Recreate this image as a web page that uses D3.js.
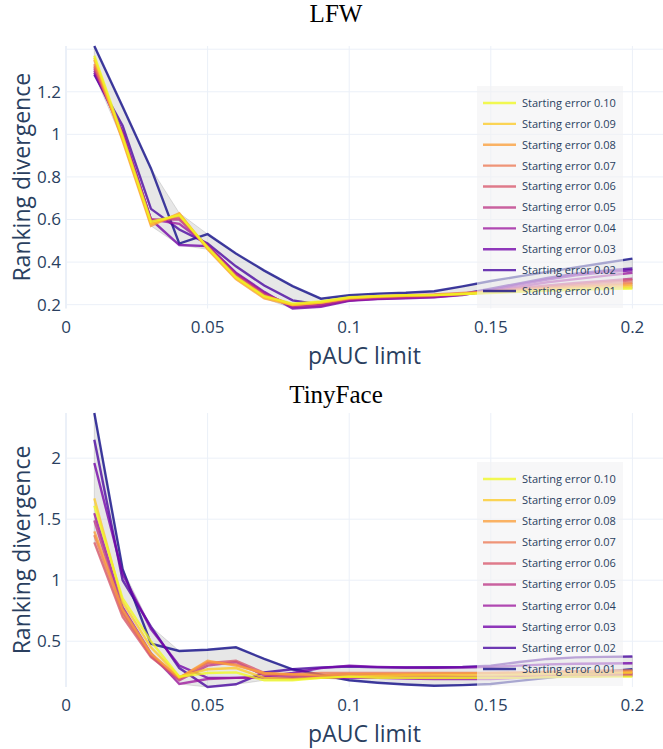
<!DOCTYPE html>
<html>
<head>
<meta charset="utf-8">
<script src="https://cdn.jsdelivr.net/npm/d3@7/dist/d3.min.js"></script>
<style>
  html, body { margin: 0; padding: 0; background: #fff; }
  svg { display: block; }
</style>
</head>
<body>
<svg id="chart" width="663" height="749"></svg>
<script>
// pAUC limits (x values shared by every series)
const pauc = [0.01, 0.02, 0.03, 0.04, 0.05, 0.06, 0.07, 0.08, 0.09, 0.10,
              0.11, 0.12, 0.13, 0.14, 0.15, 0.16, 0.17, 0.18, 0.19, 0.20];

// Series names, listed in legend order
const startingErrors = ["0.10", "0.09", "0.08", "0.07", "0.06", "0.05", "0.04", "0.03", "0.02", "0.01"];

// LFW ranking divergence, one array per starting error
const lfw010 = [1.37, 0.99, 0.59, 0.62, 0.47, 0.33, 0.24, 0.205, 0.215, 0.235, 0.24, 0.245, 0.245, 0.25, 0.255, 0.26, 0.265, 0.27, 0.273, 0.276];
const lfw009 = [1.36, 0.98, 0.58, 0.625, 0.465, 0.325, 0.235, 0.20, 0.21, 0.232, 0.238, 0.243, 0.245, 0.25, 0.257, 0.263, 0.27, 0.275, 0.28, 0.285];
const lfw008 = [1.35, 0.97, 0.57, 0.63, 0.46, 0.32, 0.23, 0.198, 0.21, 0.23, 0.238, 0.242, 0.246, 0.252, 0.26, 0.267, 0.275, 0.282, 0.288, 0.295];
const lfw007 = [1.33, 0.98, 0.58, 0.62, 0.465, 0.33, 0.24, 0.20, 0.212, 0.232, 0.24, 0.244, 0.248, 0.255, 0.263, 0.272, 0.28, 0.288, 0.295, 0.303];
const lfw006 = [1.32, 0.99, 0.59, 0.61, 0.47, 0.335, 0.245, 0.20, 0.208, 0.228, 0.236, 0.24, 0.245, 0.252, 0.262, 0.275, 0.285, 0.295, 0.305, 0.315];
const lfw005 = [1.31, 1.00, 0.60, 0.60, 0.475, 0.34, 0.25, 0.195, 0.20, 0.225, 0.232, 0.235, 0.24, 0.25, 0.262, 0.278, 0.29, 0.302, 0.312, 0.322];
const lfw004 = [1.30, 1.01, 0.60, 0.58, 0.48, 0.345, 0.255, 0.19, 0.195, 0.22, 0.228, 0.232, 0.236, 0.248, 0.265, 0.285, 0.305, 0.32, 0.335, 0.35];
const lfw003 = [1.29, 1.01, 0.60, 0.48, 0.475, 0.35, 0.26, 0.182, 0.19, 0.218, 0.226, 0.23, 0.235, 0.245, 0.268, 0.295, 0.318, 0.338, 0.352, 0.362];
const lfw002 = [1.28, 1.04, 0.65, 0.553, 0.487, 0.38, 0.29, 0.22, 0.20, 0.22, 0.23, 0.235, 0.24, 0.25, 0.275, 0.30, 0.325, 0.345, 0.36, 0.37];
const lfw001 = [1.415, 1.13, 0.84, 0.487, 0.531, 0.44, 0.36, 0.287, 0.228, 0.244, 0.252, 0.256, 0.263, 0.286, 0.311, 0.333, 0.354, 0.375, 0.396, 0.416];

// TinyFace ranking divergence, one array per starting error
const tf010 = [1.61, 0.85, 0.50, 0.21, 0.24, 0.245, 0.18, 0.18, 0.20, 0.21, 0.20, 0.20, 0.20, 0.20, 0.20, 0.20, 0.205, 0.21, 0.21, 0.21];
const tf009 = [1.67, 0.82, 0.45, 0.21, 0.27, 0.28, 0.20, 0.19, 0.20, 0.21, 0.215, 0.22, 0.22, 0.22, 0.22, 0.225, 0.23, 0.23, 0.235, 0.24];
const tf008 = [1.40, 0.76, 0.40, 0.20, 0.34, 0.30, 0.24, 0.23, 0.22, 0.23, 0.23, 0.23, 0.235, 0.235, 0.24, 0.24, 0.245, 0.25, 0.25, 0.25];
const tf007 = [1.37, 0.73, 0.39, 0.20, 0.33, 0.31, 0.23, 0.23, 0.24, 0.24, 0.24, 0.24, 0.24, 0.24, 0.24, 0.245, 0.25, 0.255, 0.26, 0.26];
const tf006 = [1.31, 0.70, 0.37, 0.19, 0.32, 0.34, 0.24, 0.22, 0.21, 0.21, 0.21, 0.205, 0.20, 0.20, 0.20, 0.205, 0.21, 0.21, 0.215, 0.22];
const tf005 = [1.49, 0.74, 0.38, 0.18, 0.30, 0.33, 0.22, 0.21, 0.22, 0.23, 0.23, 0.22, 0.215, 0.21, 0.21, 0.215, 0.22, 0.225, 0.23, 0.24];
const tf004 = [1.55, 0.78, 0.40, 0.15, 0.19, 0.20, 0.20, 0.20, 0.20, 0.20, 0.20, 0.195, 0.19, 0.19, 0.19, 0.20, 0.21, 0.22, 0.225, 0.23];
const tf003 = [1.96, 1.05, 0.60, 0.30, 0.20, 0.20, 0.21, 0.24, 0.28, 0.30, 0.29, 0.285, 0.283, 0.285, 0.29, 0.30, 0.31, 0.315, 0.318, 0.32];
const tf002 = [2.15, 1.00, 0.62, 0.28, 0.125, 0.147, 0.244, 0.27, 0.285, 0.293, 0.286, 0.285, 0.287, 0.29, 0.30, 0.33, 0.355, 0.368, 0.372, 0.375];
const tf001 = [2.37, 1.09, 0.48, 0.42, 0.43, 0.45, 0.355, 0.27, 0.225, 0.18, 0.16, 0.145, 0.135, 0.14, 0.15, 0.175, 0.20, 0.225, 0.25, 0.27];

// Axis ticks
const xTicks = [0, 0.05, 0.1, 0.15, 0.2];
const lfwYTicks = [0.2, 0.4, 0.6, 0.8, 1, 1.2];
const tfYTicks = [0.5, 1, 1.5, 2];

// Plasma palette, same order as startingErrors
const plasma = ["#f0f921", "#fdca26", "#fb9f3a", "#ed7953", "#d8576b",
                "#bd3786", "#9c179e", "#7201a8", "#46039f", "#0d0887"];

const panels = [
  { title: "LFW", series: [lfw010, lfw009, lfw008, lfw007, lfw006, lfw005, lfw004, lfw003, lfw002, lfw001],
    yTicks: lfwYTicks, extraGrid: [1.4], top: 46, bottom: 308.5, titleY: 22, legendTop: 86, legendBottom: 308 },
  { title: "TinyFace", series: [tf010, tf009, tf008, tf007, tf006, tf005, tf004, tf003, tf002, tf001],
    yTicks: tfYTicks, extraGrid: [], top: 413, bottom: 687, titleY: 403, legendTop: 462, legendBottom: 686 }
];

const svg = d3.select("#chart");
const plotLeft = 66, plotRight = 663;
const fontSans = "'Open Sans', 'Noto Sans', sans-serif";
const axisColor = "#2a3f5f";
const gridColor = "#ebf0f8";

const x = d3.scaleLinear().domain([0, 0.2]).range([plotLeft, 632.4]);

panels.forEach(p => {
  const all = p.series.flat();
  const y = d3.scaleLinear().domain(d3.extent(all)).range([p.bottom, p.top]);
  const g = svg.append("g");

  // grid
  g.selectAll(".hgrid").data(p.yTicks.concat(p.extraGrid)).join("line")
    .attr("x1", plotLeft).attr("x2", plotRight)
    .attr("y1", d => y(d)).attr("y2", d => y(d))
    .attr("stroke", gridColor).attr("stroke-width", 1);
  g.selectAll(".vgrid").data(xTicks).join("line")
    .attr("x1", d => x(d)).attr("x2", d => x(d))
    .attr("y1", p.top).attr("y2", p.bottom)
    .attr("stroke", gridColor).attr("stroke-width", d => d === 0 ? 2 : 1);

  // tick labels
  g.selectAll(".ylab").data(p.yTicks).join("text")
    .attr("x", 61).attr("y", d => y(d)).attr("dy", "0.35em")
    .attr("text-anchor", "end").attr("font-family", fontSans).attr("font-size", 17)
    .attr("fill", axisColor).text(d => d3.format("~g")(d));
  g.selectAll(".xlab").data(xTicks).join("text")
    .attr("x", d => x(d)).attr("y", p.bottom + 24)
    .attr("text-anchor", "middle").attr("font-family", fontSans).attr("font-size", 17)
    .attr("fill", axisColor).text(d => d3.format("~g")(d));

  // axis titles
  g.append("text").attr("x", (plotLeft + plotRight) / 2).attr("y", p.bottom + 55)
    .attr("text-anchor", "middle").attr("font-family", fontSans).attr("font-size", 23)
    .attr("fill", axisColor).text("pAUC limit");
  const cy = (p.top + p.bottom) / 2;
  g.append("text").attr("transform", `translate(30,${cy}) rotate(-90)`)
    .attr("text-anchor", "middle").attr("font-family", fontSans).attr("font-size", 23)
    .attr("fill", axisColor).text("Ranking divergence");

  // panel title
  g.append("text").attr("x", 336).attr("y", p.titleY)
    .attr("text-anchor", "middle").attr("font-family", "'Liberation Serif', 'Times New Roman', serif")
    .attr("font-size", 25).attr("fill", "#000").text(p.title);

  // min/max envelope of all series
  const band = pauc.map((v, i) => ({
    x: v,
    lo: d3.min(p.series, s => s[i]),
    hi: d3.max(p.series, s => s[i])
  }));
  g.append("path").datum(band)
    .attr("d", d3.area().x(d => x(d.x)).y0(d => y(d.lo)).y1(d => y(d.hi)))
    .attr("fill", "rgba(170,170,170,0.28)")
    .attr("stroke", "rgba(150,150,150,0.3)").attr("stroke-width", 1);

  // series lines, darkest first so the yellow ones sit on top
  const line = d3.line().x((d, i) => x(pauc[i])).y(d => y(d));
  const order = d3.range(p.series.length).reverse();
  order.forEach(k => {
    g.append("path").datum(p.series[k])
      .attr("d", line).attr("fill", "none")
      .attr("stroke", plasma[k]).attr("stroke-opacity", 0.78)
      .attr("stroke-width", 2.4).attr("stroke-linejoin", "miter");
  });

  // legend
  const lg = g.append("g");
  lg.append("rect").attr("x", 477).attr("y", p.legendTop)
    .attr("width", 146).attr("height", p.legendBottom - p.legendTop)
    .attr("fill", "rgba(242,242,244,0.6)");
  const rowH = (p.legendBottom - p.legendTop - 34) / 9;
  startingErrors.forEach((name, k) => {
    const ry = p.legendTop + 17 + k * rowH;
    lg.append("line").attr("x1", 483).attr("x2", 516).attr("y1", ry).attr("y2", ry)
      .attr("stroke", plasma[k]).attr("stroke-opacity", 0.78).attr("stroke-width", 2.4);
    lg.append("text").attr("x", 522).attr("y", ry).attr("dy", "0.35em")
      .attr("font-family", fontSans).attr("font-size", 11).attr("fill", axisColor)
      .text("Starting error " + name);
  });
});
</script>
</body>
</html>
